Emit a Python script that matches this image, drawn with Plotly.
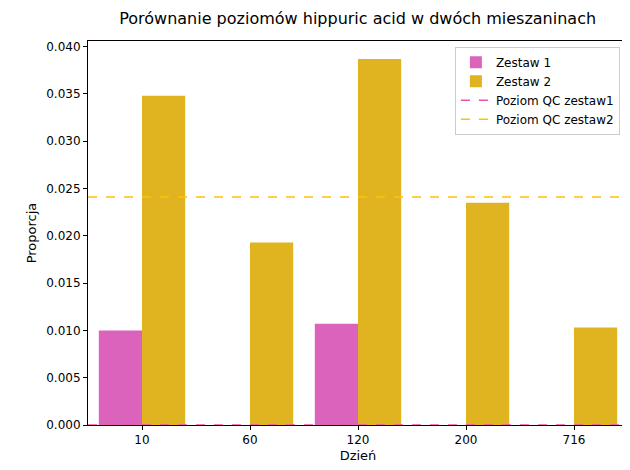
import plotly.graph_objects as go

days = ["10", "60", "120", "200", "716"]
zestaw1 = [0.0100, 0.0, 0.0107, 0.0, 0.0]
zestaw2 = [0.0348, 0.0193, 0.0387, 0.0235, 0.0103]
qc1 = 0.0
qc2 = 0.0241

pos = list(range(len(days)))
fig = go.Figure()
fig.add_trace(go.Bar(x=[p - 0.2 for p in pos], y=zestaw1, width=0.4, name="Zestaw 1",
                     marker=dict(color="#dc63bb", line=dict(width=0))))
fig.add_trace(go.Bar(x=[p + 0.2 for p in pos], y=zestaw2, width=0.4, name="Zestaw 2",
                     marker=dict(color="#e0b420", line=dict(width=0))))
fig.add_trace(go.Scatter(x=[-0.5, 4.5], y=[qc1, qc1], mode="lines", name="Poziom QC zestaw1",
                         line=dict(color="#f04fb0", dash="dash", width=1.5)))
fig.add_trace(go.Scatter(x=[-0.5, 4.5], y=[qc2, qc2], mode="lines", name="Poziom QC zestaw2",
                         line=dict(color="#ffc107", dash="dash", width=1.5)))

axis = dict(showline=True, linecolor="black", linewidth=1, mirror=True, ticks="outside",
            ticklen=4, tickcolor="black", showgrid=False, zeroline=False, automargin=False,
            tickfont=dict(size=12, color="black"))
fig.update_layout(
    width=630, height=470, plot_bgcolor="white", paper_bgcolor="white",
    font=dict(family="DejaVu Sans", color="black", size=12),
    margin=dict(l=80, r=10, t=33, b=53, autoexpand=False),
    title=dict(text="Porównanie poziomów hippuric acid w dwóch mieszaninach",
               x=0.555, xanchor="center", y=0.99, yanchor="top", font=dict(size=16),
               automargin=False),
    barmode="overlay",
    xaxis=dict(axis, range=[-0.5, 4.5], tickvals=pos, ticktext=days,
               title=dict(text="Dzień", standoff=4, font=dict(size=13))),
    yaxis=dict(axis, range=[0, 0.0406], dtick=0.005, tickformat=".3f",
               title=dict(text="Proporcja", standoff=6, font=dict(size=13))),
    legend=dict(x=0.985, y=0.985, xanchor="right", yanchor="top", bordercolor="#cccccc",
                borderwidth=1, bgcolor="rgba(255,255,255,0.8)", font=dict(size=12)),
)
fig.write_html("out.html")
